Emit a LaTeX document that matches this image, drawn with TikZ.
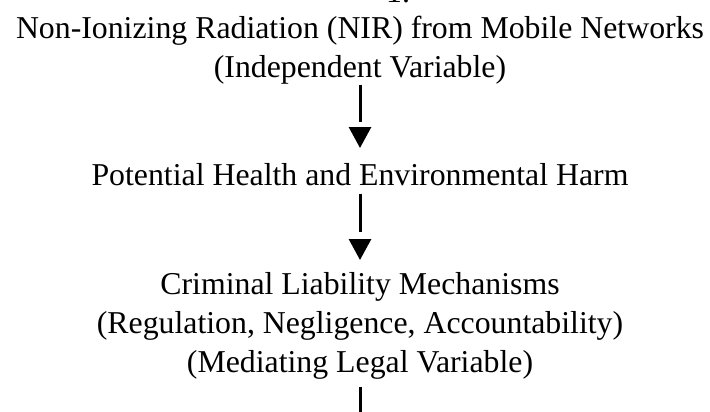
\documentclass[tikz,border=0pt]{standalone}
\usepackage{fontspec}
\setmainfont{Liberation Serif}
\usetikzlibrary{arrows.meta}

\begin{document}
\begin{tikzpicture}[x=1pt, y=1pt,
	txt/.style={align=center, inner sep=0pt, anchor=north, font=\fontsize{31.8}{39}\selectfont},
	shaft/.style={line width=3pt},
	head/.style={line width=3pt, -{Triangle[length=21pt, width=22pt]}}]
	\useasboundingbox (0,0) rectangle (710,-412);
	\node[txt, anchor=base west] (F) at (386,-3) {1.};
	\node[txt] (NIR) at (360,-16) {Non-Ionizing Radiation (NIR) from Mobile Networks\\(Independent Variable)};
	\node[txt] (H) at (360,-163) {Potential Health and Environmental Harm};
	\node[txt] (C) at (360,-272) {Criminal Liability Mechanisms\\(Regulation, Negligence, Accountability)\\(Mediating Legal Variable)};
	\coordinate (N) at (360,-470);
	% shaft, then the head a little below it
	\draw[shaft, shorten >=41pt] (NIR) -- (H);
	\draw[head, shorten <=43pt, shorten >=15pt] (NIR) -- (H);
	\draw[shaft, shorten <=8pt, shorten >=40pt] (H) -- (C);
	\draw[head, shorten <=54pt, shorten >=12pt] (H) -- (C);
	\draw[shaft, shorten <=8pt] (C) -- (N);
\end{tikzpicture}
\end{document}
